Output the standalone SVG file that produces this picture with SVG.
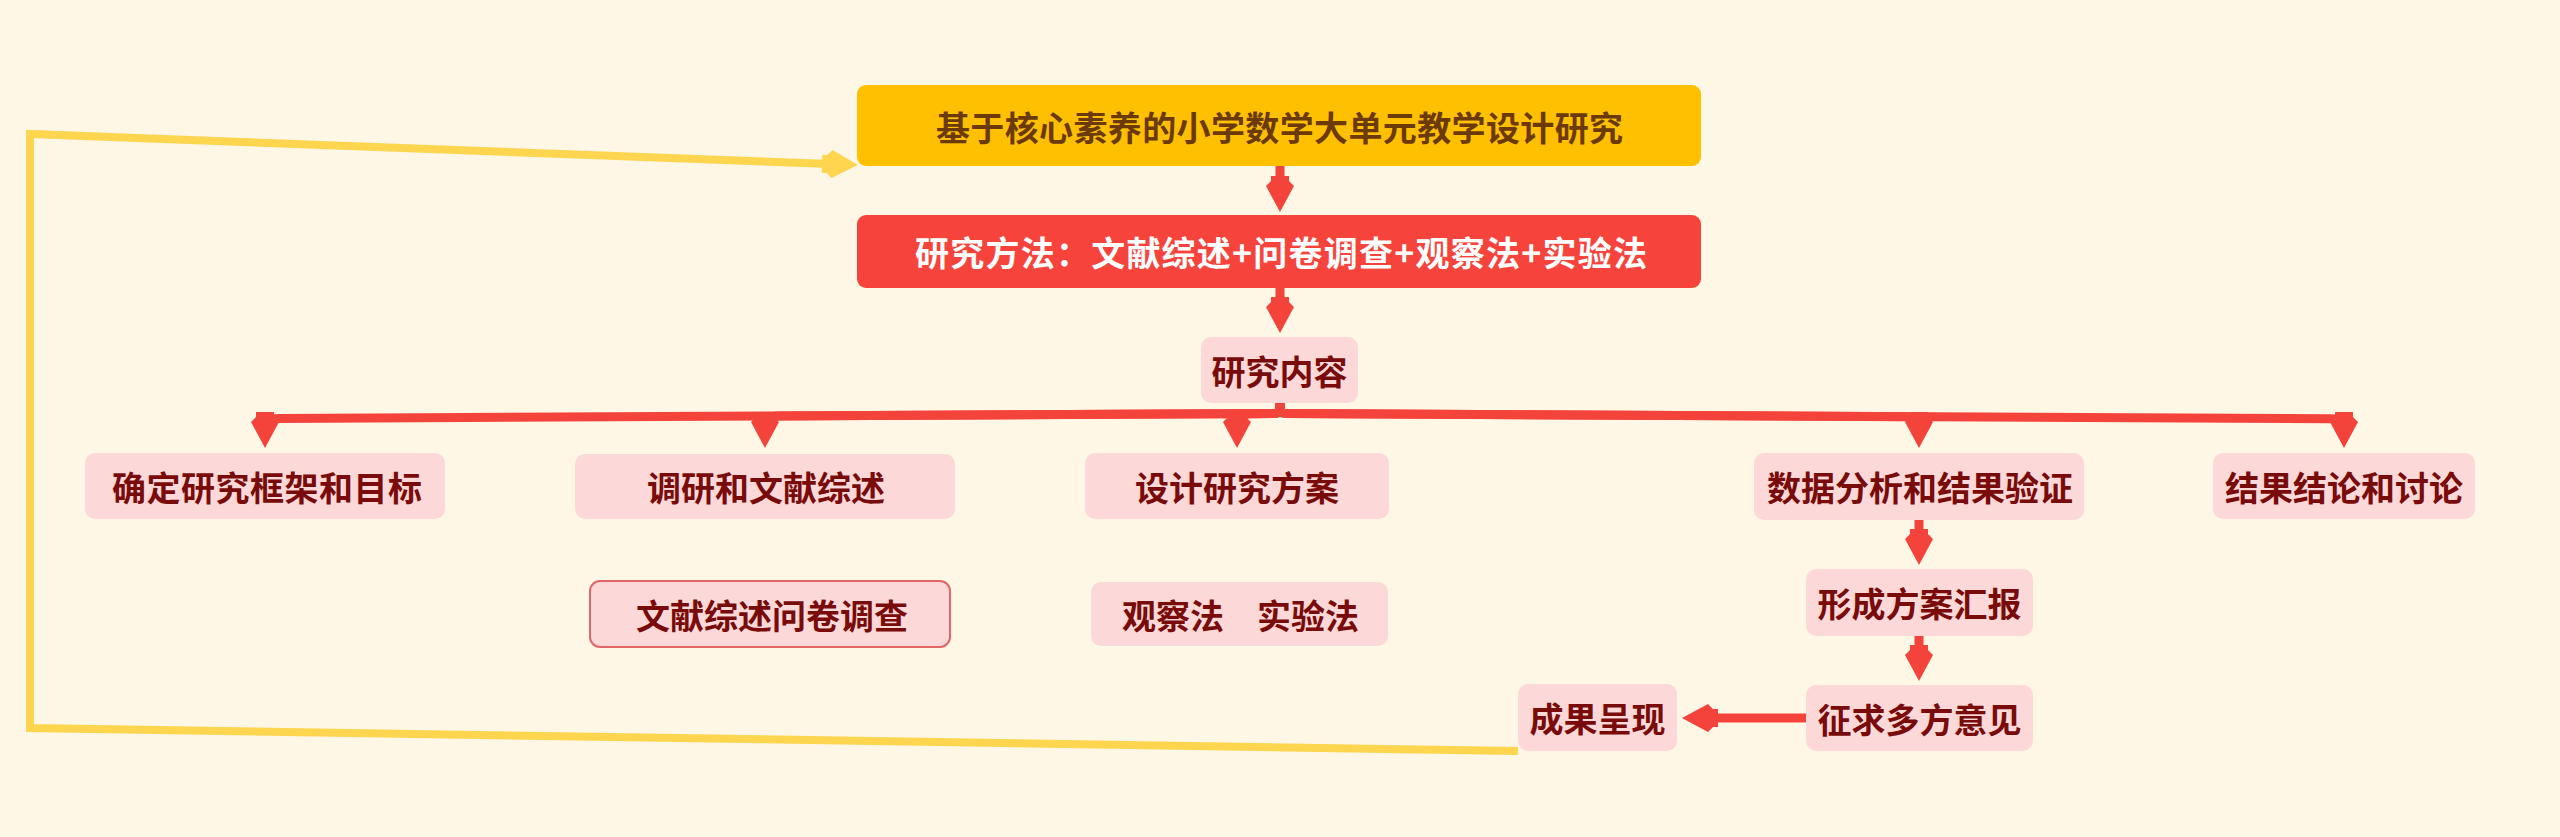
<svg xmlns="http://www.w3.org/2000/svg" width="2560" height="837" viewBox="0 0 2560 837">
<style>
  .t { font-family: "Noto Sans CJK SC", "Noto Sans", sans-serif; font-weight: 700; font-size: 34px; dominant-baseline: central; text-anchor: middle; }
  .sub rect { fill: #fcd9d8; }
  .sub text { fill: #7a0b0b; }
  .red { fill: none; stroke: #f4433a; stroke-width: 9; stroke-linejoin: round; }
  .yel { fill: none; stroke: #fdd54f; stroke-width: 8; stroke-linejoin: miter; }
</style>
<defs>
  <marker id="ar" markerUnits="userSpaceOnUse" viewBox="-38 -16 40 32" markerWidth="40" markerHeight="32" refX="-20" refY="0" orient="auto">
    <path d="M0,0 L-26,-14 L-31,-9 L-36,-9 L-36,9 L-31,9 L-26,14 Z" fill="#f4433a"/>
  </marker>
  <marker id="ay" markerUnits="userSpaceOnUse" viewBox="-38 -16 40 32" markerWidth="40" markerHeight="32" refX="-20" refY="0" orient="auto">
    <path d="M0,0 L-26,-14 L-31,-9 L-36,-9 L-36,9 L-31,9 L-26,14 Z" fill="#fdd54f"/>
  </marker>
</defs>
<rect x="0" y="0" width="2560" height="837" fill="#fef7e5"/>

<g id="connectors">
  <path class="red" d="M1280,166 L1280,192" marker-end="url(#ar)"/>
  <path class="red" d="M1280,288 L1280,313" marker-end="url(#ar)"/>
  <path class="red" d="M1280,403 L1280,409 Q1280,413.5 1272,413.5 L279,418.5 Q265,418.5 265,428" marker-end="url(#ar)"/>
  <path class="red" d="M1280,403 L1280,409 Q1280,413.5 1272,413.5 L779,416 Q765,416 765,428" marker-end="url(#ar)"/>
  <path class="red" d="M1280,403 L1280,409 Q1280,413.5 1272,413.5 L1251,413.7 Q1237,413.7 1237,428" marker-end="url(#ar)"/>
  <path class="red" d="M1280,403 L1280,409 Q1280,413.5 1288,413.5 L1905,416.7 Q1919,416.7 1919,428" marker-end="url(#ar)"/>
  <path class="red" d="M1280,403 L1280,409 Q1280,413.5 1288,413.5 L2330,418.8 Q2344,418.8 2344,428" marker-end="url(#ar)"/>
  <path class="red" d="M1919,520 L1919,545" marker-end="url(#ar)"/>
  <path class="red" d="M1919,636 L1919,661" marker-end="url(#ar)"/>
  <path class="red" d="M1806,718 L1702,718" marker-end="url(#ar)"/>
  <path class="yel" d="M1518,751 L30,728 L30,134 L838,164.3" marker-end="url(#ay)"/>
</g>

<g id="root">
  <rect x="857" y="85" width="844" height="81" rx="9" fill="#fec000"/>
  <text class="t" x="1279.5" y="126" fill="#6b3a08" textLength="687" lengthAdjust="spacing">基于核心素养的小学数学大单元教学设计研究</text>
</g>
<g id="method">
  <rect x="857" y="215" width="844" height="73" rx="9" fill="#f6443c"/>
  <text class="t" x="1281" y="251" fill="#ffffff" textLength="732" lengthAdjust="spacing">研究方法：文献综述+问卷调查+观察法+实验法</text>
</g>
<g id="content" class="sub">
  <rect x="1201" y="337" width="157" height="66" rx="10"/>
  <text class="t" x="1279.5" y="370">研究内容</text>
</g>
<g id="n1" class="sub">
  <rect x="85" y="453" width="360" height="66" rx="10"/>
  <text class="t" x="267" y="486" textLength="310" lengthAdjust="spacing">确定研究框架和目标</text>
</g>
<g id="n2" class="sub">
  <rect x="575" y="454" width="380" height="65" rx="10"/>
  <text class="t" x="766" y="486">调研和文献综述</text>
</g>
<g id="n3" class="sub">
  <rect x="1085" y="453" width="304" height="66" rx="10"/>
  <text class="t" x="1237" y="486">设计研究方案</text>
</g>
<g id="n4" class="sub">
  <rect x="1754" y="453" width="330" height="67" rx="10"/>
  <text class="t" x="1920" y="486">数据分析和结果验证</text>
</g>
<g id="n5" class="sub">
  <rect x="2213" y="453" width="262" height="66" rx="10"/>
  <text class="t" x="2344" y="486">结果结论和讨论</text>
</g>
<g id="n2a" class="sub">
  <rect x="590" y="581" width="360" height="66" rx="10" stroke="#e0666a" stroke-width="2"/>
  <text class="t" x="772" y="614">文献综述问卷调查</text>
</g>
<g id="n3a" class="sub">
  <rect x="1091" y="582" width="297" height="64" rx="10"/>
  <text class="t" y="614"><tspan x="1173">观察法</tspan><tspan x="1308">实验法</tspan></text>
</g>
<g id="n4a" class="sub">
  <rect x="1806" y="569" width="227" height="67" rx="10"/>
  <text class="t" x="1919.5" y="602">形成方案汇报</text>
</g>
<g id="n4b" class="sub">
  <rect x="1806" y="685" width="227" height="66" rx="10"/>
  <text class="t" x="1919.5" y="718">征求多方意见</text>
</g>
<g id="n4c" class="sub">
  <rect x="1518" y="684" width="159" height="67" rx="10"/>
  <text class="t" x="1597.5" y="717">成果呈现</text>
</g>
</svg>
